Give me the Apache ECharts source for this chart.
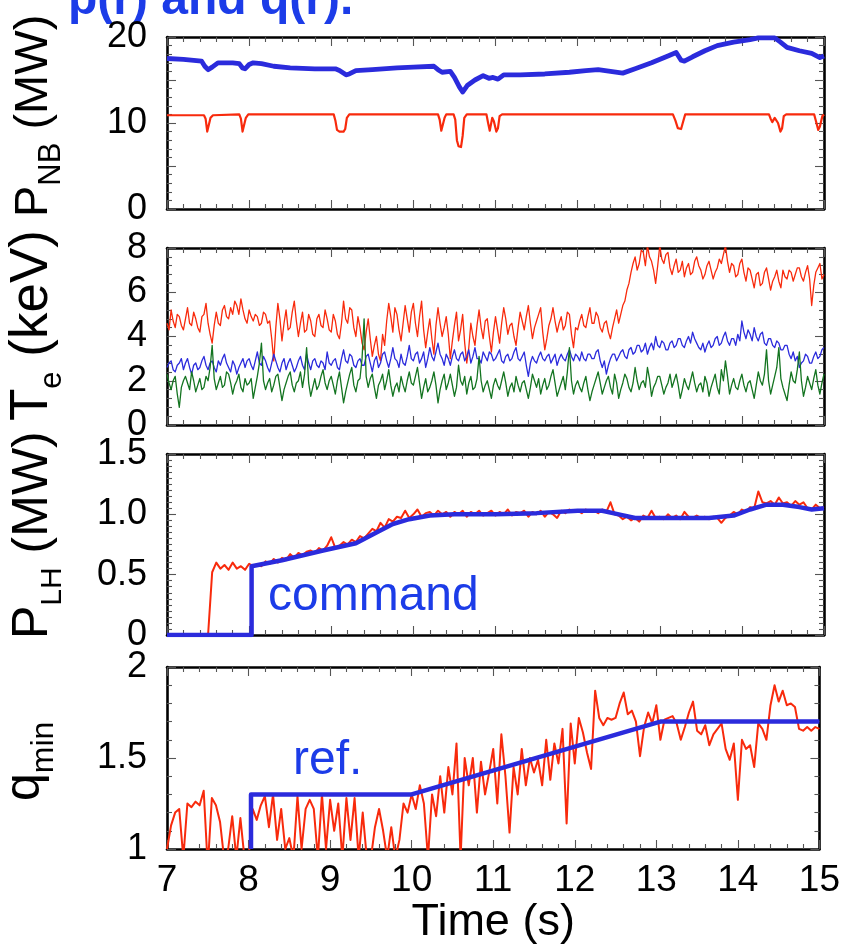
<!DOCTYPE html>
<html><head><meta charset="utf-8">
<script src="https://cdn.jsdelivr.net/npm/echarts@6/dist/echarts.min.js"></script>
<style>html,body{margin:0;padding:0;background:#fff}#c{width:843px;height:946px}</style>
</head><body><div id="c"></div>
<script>
// ---------- DATA ----------
const T0 = 7;                      // start of sampled traces (s)
const DT = 0.05;                   // sample step of P_LH and q_min traces (s)
const TE_DT = 0.025;               // sample step of T_e traces (s)
const timeTicks = [7, 8, 9, 10, 11, 12, 13, 14, 15];

// P_NB (MW): total (blue) and single-source (red), [time, MW]
const pnbTotal = [[7.0,17.5],[7.2,17.4],[7.42,17.2],[7.46,16.6],[7.5,16.2],[7.55,16.5],[7.62,17.0],[7.8,17.0],[7.88,16.9],[7.92,16.4],[7.95,16.3],[8.0,16.8],[8.05,17.0],[8.15,16.9],[8.3,16.6],[8.5,16.4],[8.8,16.3],[9.05,16.3],[9.1,16.1],[9.18,15.6],[9.22,15.7],[9.3,16.1],[9.5,16.2],[9.8,16.4],[10.0,16.5],[10.25,16.6],[10.3,16.2],[10.35,15.9],[10.45,16.0],[10.5,15.3],[10.56,14.2],[10.6,13.6],[10.66,14.4],[10.75,15.0],[10.85,15.5],[10.92,15.2],[10.97,15.3],[11.03,15.1],[11.1,15.6],[11.3,15.6],[11.6,15.7],[11.9,15.9],[12.1,16.1],[12.25,16.2],[12.4,16.0],[12.55,15.8],[12.7,16.3],[12.9,17.0],[13.1,17.8],[13.2,18.2],[13.26,17.3],[13.3,17.2],[13.4,17.7],[13.55,18.4],[13.7,19.0],[13.9,19.4],[14.1,19.7],[14.2,19.9],[14.4,19.9],[14.47,19.4],[14.55,18.8],[14.7,18.4],[14.85,18.1],[14.95,17.6],[15.0,17.8]];
const pnbSource = [[7.0,10.9],[7.45,10.9],[7.47,10.5],[7.49,9.0],[7.51,9.0],[7.53,10.6],[7.56,10.9],[7.88,11.0],[7.9,10.5],[7.92,9.0],[7.94,9.1],[7.96,10.6],[7.99,11.0],[9.03,11.0],[9.05,10.3],[9.07,9.2],[9.1,9.0],[9.15,9.0],[9.17,9.3],[9.19,10.6],[9.22,11.0],[10.3,11.0],[10.32,10.4],[10.34,9.1],[10.36,9.2],[10.38,10.6],[10.4,11.0],[10.49,11.0],[10.51,10.4],[10.53,8.0],[10.55,7.3],[10.58,7.2],[10.6,8.5],[10.62,10.6],[10.65,11.0],[10.89,11.0],[10.91,10.0],[10.93,9.1],[10.96,10.6],[10.98,10.2],[11.01,9.0],[11.03,9.4],[11.05,10.8],[11.08,11.0],[13.16,11.0],[13.19,10.3],[13.22,9.4],[13.26,9.3],[13.28,10.0],[13.31,11.0],[14.33,11.0],[14.35,10.5],[14.37,10.1],[14.4,10.6],[14.44,10.0],[14.47,9.0],[14.49,9.4],[14.51,10.8],[14.54,11.0],[14.88,11.0],[14.9,10.3],[14.93,9.2],[14.95,9.6],[14.98,10.8],[15.0,11.0]];

// T_e (keV) at three radii, sampled every TE_DT from T0 (one row per second)
const teCore = [
 4.6,4.3,5.2,4.7,4.4,5.0,4.9,4.5,4.3,4.8,5.3,4.6,4.5,5.1,4.8,4.4,4.2,4.9,5.0,5.5,4.6,4.1,3.7,4.5,5.1,4.6,4.5,5.2,5.4,4.9,4.8,5.3,5.0,5.6,5.4,5.0,5.7,5.2,4.8,4.6,
 5.2,4.9,4.7,5.0,4.9,4.5,4.6,5.1,5.0,4.6,4.7,3.9,2.9,4.4,5.5,4.8,3.8,4.6,5.2,4.3,4.4,5.1,5.6,4.7,4.0,4.6,5.1,4.2,4.3,5.0,4.7,4.1,4.0,4.8,5.0,4.5,4.4,5.2,4.8,4.3,
 4.2,5.0,4.7,4.1,3.9,4.6,5.6,4.8,4.6,5.3,5.2,4.4,4.0,4.9,4.4,3.7,3.4,4.2,4.8,3.9,3.1,3.6,4.0,3.2,2.9,4.1,3.6,4.7,5.5,4.9,4.2,5.3,5.0,4.3,3.8,4.6,5.4,4.8,4.2,5.1,
 5.5,4.6,4.0,4.9,5.6,4.3,3.5,4.2,4.8,3.9,3.2,4.5,5.3,4.6,4.0,4.4,4.9,4.1,3.0,3.8,4.5,5.1,3.8,4.3,5.0,3.7,2.8,3.5,4.6,4.0,3.6,4.5,5.2,4.4,3.9,4.7,4.8,4.0,3.3,4.2,
 4.9,4.3,3.7,4.6,5.3,4.8,4.1,4.5,4.6,4.0,3.6,4.4,5.1,4.7,4.3,4.9,5.4,4.6,3.9,4.4,4.7,5.0,5.3,4.2,3.4,3.9,4.5,4.8,5.3,4.7,4.2,4.6,4.9,4.3,4.5,5.1,5.0,4.1,3.5,4.4,
 4.3,4.7,5.0,4.5,4.4,4.9,5.3,4.6,4.6,5.1,4.9,4.4,4.2,4.6,4.7,4.2,3.9,4.4,4.8,5.2,4.6,5.0,5.4,5.6,6.1,6.4,6.9,7.3,7.6,7.0,7.3,7.9,7.8,7.2,8.1,7.6,7.4,7.0,6.4,7.2,
 8.1,7.5,7.3,7.7,7.8,7.1,6.8,7.2,7.5,6.9,7.0,7.4,6.7,7.1,7.3,6.8,6.9,7.4,7.6,7.2,7.0,6.6,6.8,7.2,7.4,7.0,6.6,6.9,7.1,7.5,7.3,7.7,8.1,7.4,6.9,7.3,7.2,6.7,6.8,7.3,
 7.5,6.9,6.5,7.1,7.0,6.6,6.2,6.8,6.9,6.3,6.4,6.9,7.1,6.6,6.1,6.5,6.7,7.0,6.5,6.2,7.0,6.7,6.6,7.0,6.9,6.5,6.8,7.1,7.1,6.7,6.5,6.9,7.2,6.6,5.4,6.3,6.9,7.1,7.3,6.6,
 6.8];
const teMid = [
 2.6,2.8,2.9,2.5,2.4,2.7,2.8,3.0,2.5,2.8,3.0,2.6,2.3,2.7,2.8,2.5,2.6,2.9,3.1,2.7,2.5,2.8,2.9,2.6,2.4,2.9,2.7,3.0,3.2,2.8,2.6,2.4,2.9,2.7,2.3,2.6,2.8,3.0,2.6,2.9,
 3.0,2.7,2.5,2.9,3.3,2.8,2.7,3.1,2.9,2.6,2.4,2.8,3.2,2.9,2.6,2.4,2.8,3.0,2.5,2.8,3.0,2.7,2.4,2.6,2.9,3.1,2.7,2.5,3.2,2.8,2.5,2.9,3.0,2.7,2.6,2.9,2.8,2.5,3.3,2.8,
 2.7,2.9,3.0,2.6,2.5,3.0,3.4,2.9,2.8,3.2,3.1,2.7,2.6,2.9,3.0,2.7,2.7,3.1,3.2,2.8,2.4,2.9,3.1,2.6,2.8,3.2,3.3,2.9,2.6,3.0,3.5,3.0,2.9,2.6,3.2,2.8,2.7,3.1,3.6,3.0,
 2.9,3.2,3.3,2.8,3.0,3.3,2.6,3.0,3.5,3.1,2.9,3.3,3.7,3.2,3.0,2.7,3.2,3.0,2.7,3.1,3.4,3.0,2.9,3.2,3.3,2.9,3.1,3.4,2.8,3.1,3.5,3.0,3.0,2.8,3.3,3.1,2.9,3.3,3.2,2.9,
 3.0,3.2,3.4,2.9,2.8,3.1,3.2,2.9,3.0,3.3,3.5,3.0,2.9,3.1,3.3,2.7,2.2,2.8,3.1,2.9,2.8,3.1,3.3,3.0,2.9,3.1,3.2,2.8,3.0,3.2,2.7,3.0,3.2,3.0,2.9,3.2,3.4,3.1,2.9,3.2,
 3.1,2.9,3.3,3.0,2.9,3.2,3.2,3.0,3.0,3.3,3.4,2.9,2.6,2.9,2.3,2.7,3.0,3.2,3.2,2.9,3.1,3.3,3.4,3.1,3.0,3.4,3.5,3.2,3.3,3.6,3.6,3.3,3.4,3.7,3.2,3.5,3.7,3.4,4.0,3.6,
 3.5,3.8,3.7,3.4,3.4,3.7,3.8,3.5,3.6,3.9,3.9,3.6,3.5,3.8,4.0,3.7,4.2,3.9,3.7,3.5,3.4,3.7,3.3,3.6,3.8,3.5,3.6,3.9,4.0,3.6,3.7,4.0,4.2,3.8,3.6,3.9,3.9,3.6,4.1,3.8,
 4.7,4.2,3.9,4.3,4.1,3.8,4.4,4.0,3.8,4.1,4.2,3.7,3.6,3.9,3.9,3.6,3.5,3.8,3.7,3.4,3.4,3.6,3.6,3.2,3.0,3.3,2.9,3.1,2.6,2.8,2.9,3.2,3.1,2.8,2.8,3.1,3.3,3.0,3.1,3.4,
 3.5];
const teEdge = [
 2.3,1.9,1.6,2.0,2.2,1.4,0.8,1.7,2.0,2.2,1.9,1.6,2.4,2.0,1.5,1.8,2.1,1.6,1.7,2.2,2.0,2.6,3.6,2.1,1.6,1.9,2.2,1.7,1.8,2.4,2.3,1.9,1.4,1.8,2.0,2.3,1.7,1.5,2.1,1.8,
 1.9,2.1,1.2,1.7,2.2,2.8,3.7,2.0,1.6,1.9,2.1,1.5,1.8,2.2,2.3,1.7,1.1,1.6,1.9,2.2,2.4,1.8,1.5,1.9,2.0,2.4,1.7,2.3,3.5,1.9,1.3,1.7,2.1,1.6,1.8,2.2,2.5,1.9,1.6,2.0,
 2.2,1.8,1.4,2.0,2.4,1.7,1.0,1.5,1.9,2.3,2.6,1.8,1.5,2.0,2.1,3.0,4.8,2.2,1.7,2.1,2.3,1.7,1.2,1.8,2.0,2.3,1.6,2.0,2.5,1.8,1.3,1.7,1.9,1.5,2.2,1.8,1.5,2.0,2.4,1.9,
 1.8,2.2,2.6,1.9,1.2,1.7,2.1,1.5,1.7,2.0,2.4,1.8,1.0,1.6,2.0,2.3,1.6,1.9,2.3,1.8,1.3,1.7,2.7,2.0,1.8,2.2,1.4,1.9,2.2,1.6,1.7,2.1,3.1,2.0,1.5,1.8,2.0,1.6,1.2,1.8,
 2.1,1.8,1.6,2.0,2.4,1.9,1.3,1.7,1.9,1.5,2.2,1.8,1.5,1.9,2.0,1.6,1.2,1.7,2.3,2.0,1.7,2.1,1.4,1.8,2.1,1.6,1.8,2.2,2.5,1.9,1.3,1.6,1.9,2.2,1.6,2.4,3.5,2.0,1.4,1.8,
 2.0,1.7,1.5,1.9,2.2,1.6,1.1,1.5,1.8,2.1,2.4,1.9,1.4,1.7,2.0,2.2,1.7,1.4,2.3,1.9,1.2,1.6,1.9,2.3,2.1,1.7,1.5,1.9,2.6,2.0,1.6,1.9,2.0,1.7,2.6,2.1,1.3,1.7,1.9,2.2,
 2.2,1.8,1.4,1.7,1.9,2.3,1.7,2.0,2.3,1.8,1.2,1.6,2.1,1.8,1.6,2.0,2.4,1.9,1.5,1.8,1.9,1.5,2.2,1.9,1.3,1.7,2.0,2.3,1.7,1.4,2.5,2.0,2.9,2.2,1.4,1.8,2.1,1.7,1.6,2.0,
 2.3,1.8,1.5,1.9,2.0,1.6,1.2,1.8,2.4,2.0,1.8,2.3,3.4,2.0,1.4,1.8,2.2,2.6,3.5,2.1,1.7,1.4,1.1,1.8,2.4,2.0,1.9,2.5,3.3,2.0,1.3,1.7,2.2,1.9,1.6,2.1,2.5,1.8,1.4,1.9,
 2.3];

// P_LH (MW): command (blue) [time, MW], measured (red) every DT
const plhCommand = [[7,0],[8.03,0],[8.03,0.57],[8.4,0.62],[8.9,0.7],[9.3,0.76],[9.55,0.85],[9.75,0.92],[9.95,0.96],[10.2,0.99],[10.5,1.0],[11.0,1.0],[11.5,1.01],[12.0,1.03],[12.3,1.03],[12.5,1.0],[12.7,0.97],[13.0,0.97],[13.6,0.97],[13.9,0.99],[14.1,1.04],[14.3,1.08],[14.5,1.08],[14.7,1.06],[14.85,1.04],[15,1.05]];
const plhMeasured = [
 0,0,0,0,0,0,0,0,0,0,0,0.52,0.6,0.55,0.58,0.54,0.6,0.55,0.57,0.54,
 0.59,0.57,0.58,0.57,0.61,0.59,0.63,0.6,0.64,0.62,0.67,0.64,0.68,0.66,0.69,0.7,0.68,0.72,0.7,0.74,
 0.81,0.72,0.74,0.77,0.75,0.79,0.77,0.82,0.8,0.84,0.88,0.86,0.93,0.89,0.96,0.94,0.98,0.97,1.03,0.97,
 1.0,1.04,0.98,1.01,1.02,0.99,1.03,1.0,1.02,0.98,1.02,1.0,1.03,0.98,1.02,1.0,1.03,0.99,1.01,1.03,
 0.99,1.02,1.0,1.04,0.99,1.02,1.01,1.03,0.98,1.02,1.0,1.03,0.98,1.02,1.0,0.97,1.03,1.01,1.04,1.02,
 1.03,1.01,1.04,1.02,1.03,1.01,1.04,1.02,1.1,1.0,0.99,0.96,0.98,0.95,0.97,0.94,0.99,0.97,1.03,0.97,
 0.98,0.96,1.0,0.97,0.99,0.96,1.02,0.98,0.97,0.99,0.97,0.98,0.96,0.98,0.97,0.93,0.97,0.99,1.02,1.0,
 1.04,1.02,1.06,1.05,1.19,1.1,1.09,1.11,1.08,1.14,1.09,1.1,1.07,1.11,1.08,1.1,1.05,1.04,1.08,1.05,
 1.06];

// q_min: reference (blue) [time, q], measured (red) every DT
const qminRef = [[8.03,1.0],[8.03,1.3],[10.0,1.3],[13.05,1.7],[15,1.7]];
const qminMeasured = [
 1.0,1.13,1.2,1.22,0.95,1.25,1.23,1.26,1.24,1.32,0.9,1.28,1.24,1.15,0.95,1.0,1.18,0.95,1.17,0.95,
 0.95,1.22,1.16,1.24,1.29,1.12,1.3,1.05,1.22,1.0,1.06,0.95,1.29,1.0,1.22,1.27,1.22,0.95,1.3,1.0,
 1.27,1.1,1.25,0.95,1.28,1.05,1.28,0.95,1.2,0.95,0.95,1.12,1.22,1.1,0.95,1.12,0.95,1.05,1.25,1.2,
 1.3,1.22,1.35,1.25,0.95,1.3,1.18,1.4,1.2,1.45,1.3,1.58,0.95,1.5,1.35,1.5,1.2,1.48,1.3,1.42,
 1.55,1.25,1.63,1.4,1.09,1.45,1.3,1.55,1.35,1.5,1.42,1.49,1.35,1.6,1.38,1.58,1.47,1.66,1.14,1.69,
 1.47,1.72,1.64,1.53,1.44,1.87,1.72,1.68,1.72,1.71,1.72,1.8,1.86,1.74,1.76,1.7,1.51,1.67,1.75,1.69,
 1.79,1.6,1.71,1.72,1.73,1.69,1.6,1.67,1.75,1.81,1.65,1.63,1.68,1.57,1.63,1.66,1.69,1.55,1.49,1.58,
 1.27,1.6,1.55,1.57,1.45,1.69,1.66,1.6,1.79,1.9,1.81,1.87,1.79,1.8,1.78,1.66,1.65,1.67,1.65,1.67,
 1.66];

// Tick labels of the four y axes
const pnbTickLabels = [0, 10, 20];
const teTickLabels = [0, 2, 4, 6, 8];
const plhTickLabels = ['0', '0.5', '1.0', '1.5'];
const qTickLabels = ['1', '1.5', '2'];

// ---------- CHART ----------
const FONT = '"Liberation Sans", Arial, Helvetica, sans-serif';
const RED = '#f82a0c', BLUE = '#2b2bdc', GREEN = '#137420', TXTBLUE = '#1c3ce8';
const gridTops = [37, 248, 454, 667], gridHeights = [172, 177, 181, 182];
const grids = gridTops.map((t, i) => ({left: 167, right: 19, top: t, height: gridHeights[i]}));

const withTime = (arr, dt) => arr.map((v, i) => [+(T0 + i * dt).toFixed(4), v]);

const tickStyle = {color: '#555', width: 1.1};
function xAx(i, pos) {
  const labels = (pos === 'bottom' && i === 3);
  return {
    type: 'value', gridIndex: i, position: pos, min: 7, max: 15, interval: 1,
    axisLine: {show: true, onZero: false, lineStyle: {color: '#000', width: 2.6}},
    axisTick: {show: true, inside: true, length: 9, lineStyle: tickStyle},
    minorTick: {show: true, splitNumber: 5, length: 5, lineStyle: tickStyle},
    splitLine: {show: false},
    axisLabel: {show: labels, fontSize: 37, fontFamily: FONT, color: '#000', margin: 13,
      formatter: v => timeTicks.includes(v) ? String(v) : ''},
    name: labels ? 'Time (s)' : '', nameLocation: 'middle', nameGap: 47,
    nameTextStyle: {fontSize: 45, fontFamily: FONT, color: '#000', verticalAlign: 'top'}
  };
}
function yAx(i, pos, min, max, interval, minorSplit, fmt) {
  return {
    type: 'value', gridIndex: i, position: pos, min, max, interval,
    axisLine: {show: true, onZero: false, lineStyle: {color: '#000', width: 2.6}},
    axisTick: {show: true, inside: true, length: 9, lineStyle: tickStyle},
    minorTick: {show: true, splitNumber: minorSplit, length: 5, lineStyle: tickStyle},
    splitLine: {show: false},
    axisLabel: {show: pos === 'left', fontSize: 36, fontFamily: FONT, color: '#000', margin: 20, formatter: fmt}
  };
}
const xAxes = [], yAxes = [];
for (let i = 0; i < 4; i++) { xAxes.push(xAx(i, 'bottom'), xAx(i, 'top')); }
const yDefs = [
  [0, 20, 5, 5, v => pnbTickLabels.includes(v) ? String(v) : ''],
  [0, 8, 2, 5, v => teTickLabels.includes(v) ? String(v) : ''],
  [0, 1.5, 0.5, 10, v => plhTickLabels[Math.round(v / 0.5)] || ''],
  [1, 2, 0.5, 5, v => qTickLabels[Math.round((v - 1) / 0.5)] || '']
];
yDefs.forEach((d, i) => { yAxes.push(yAx(i, 'left', ...d), yAx(i, 'right', ...d)); });

function line(i, data, color, width, z) {
  return {type: 'line', xAxisIndex: 2 * i, yAxisIndex: 2 * i, data, showSymbol: false, symbol: 'none',
    lineStyle: {color, width, join: 'round'}, clip: true, animation: false, z: z || 2};
}
const series = [
  line(0, pnbSource, RED, 2.2), line(0, pnbTotal, BLUE, 4.8, 3),
  line(1, withTime(teCore, TE_DT), RED, 1.3), line(1, withTime(teMid, TE_DT), BLUE, 1.3, 3), line(1, withTime(teEdge, TE_DT), GREEN, 1.3, 4),
  line(2, withTime(plhMeasured, DT), RED, 2), line(2, plhCommand, BLUE, 4.5, 3),
  line(3, withTime(qminMeasured, DT), RED, 2), line(3, qminRef, BLUE, 4.5, 3)
];

// rotated axis titles with subscripts
const mctx = document.createElement('canvas').getContext('2d');
function tw(t, size, weight) { mctx.font = (weight || 'normal') + ' ' + size + 'px ' + FONT; return mctx.measureText(t).width; }
function vTitle(bottomY, baseX, main, sub, parts) {
  const children = []; let lx = -bottomY;
  parts.forEach(p => {
    const size = p.sub ? sub : main;
    const bx = p.sub ? baseX + 12 : baseX;
    children.push({type: 'text', x: lx, y: bx - 0.3465 * size,
      style: {text: p.t, fontSize: size, fontFamily: FONT, fill: '#000', align: 'left', verticalAlign: 'middle'}});
    lx += tw(p.t, size);
  });
  return {type: 'group', x: 0, y: 0, rotation: Math.PI / 2, children};
}
const graphics = [
  vTitle(217, 50, 47, 31, [{t: 'P'}, {t: 'NB', sub: true}, {t: ' (MW)'}]),
  vTitle(421, 51, 53, 31, [{t: 'T'}, {t: 'e', sub: true}, {t: ' (keV)'}]),
  vTitle(639, 51, 50, 30, [{t: 'P'}, {t: 'LH', sub: true}, {t: ' (MW)'}]),
  vTitle(801, 43, 50, 32, [{t: 'q'}, {t: 'min', sub: true}]),
  {type: 'text', x: 68, y: 17 - 0.3465 * 48, style: {text: 'p(r) and q(r).', fontSize: 48, fontWeight: 'bold', fontFamily: FONT, fill: TXTBLUE, verticalAlign: 'middle'}},
  {type: 'text', x: 268, y: 613 - 0.3465 * 48, style: {text: 'command', fontSize: 48, fontFamily: FONT, fill: TXTBLUE, verticalAlign: 'middle'}},
  {type: 'text', x: 293, y: 777 - 0.3465 * 48, style: {text: 'ref.', fontSize: 48, fontFamily: FONT, fill: TXTBLUE, verticalAlign: 'middle'}}
];

const chart = echarts.init(document.getElementById('c'), null, {renderer: 'canvas'});
chart.setOption({animation: false, backgroundColor: '#fff', grid: grids, xAxis: xAxes, yAxis: yAxes, series, graphic: graphics});
</script></body></html>
